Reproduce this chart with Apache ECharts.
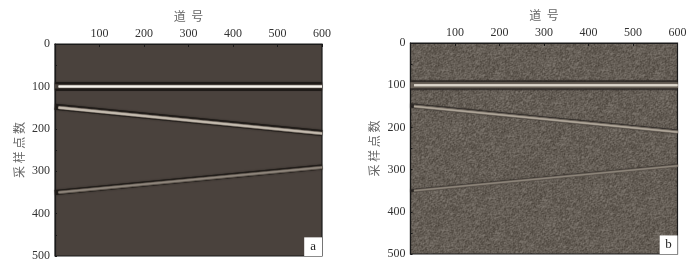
<!DOCTYPE html>
<html><head><meta charset="utf-8">
<style>html,body{margin:0;padding:0;background:#fff}#c{width:700px;height:267px}</style>
<script src="https://cdn.jsdelivr.net/npm/echarts@6/dist/echarts.min.js"></script>
</head><body><div id="c"></div>
<script>
const traceTicks = [0,100,200,300,400,500,600];
const sampleTicks = [0,100,200,300,400,500];
const xTitle = '道  号';
const yTitle = '采 样 点 数';
const panelLabels = ['a','b'];
// reflectors: [trace, sample]
const flatCore = [[8,100],[600,100]];
const flatHalo = [[0,100],[600,100]];
const dipDownCore = [[8,150],[600,211]];
const dipDownHalo = [[0,148],[600,210]];
const dipUpCore = [[8,350],[600,291]];
const dipUpHalo = [[0,350],[600,290]];

const serif = '"Liberation Serif", serif';
const cjk = '"Noto Sans CJK SC", sans-serif';

// non-data film-grain tile for panel b's background
function grainTile(){
  const n=160, cv=document.createElement('canvas'); cv.width=cv.height=n;
  const g=cv.getContext('2d'), im=g.createImageData(n,n);
  let s=12345;
  const next=()=>{s=(s*1103515245+12345)&0x7fffffff;return (s>>>8&255)/255;};
  const raw=[];for(let i=0;i<n*n;i++)raw.push(next()+next()-1);
  for(let y=0;y<n;y++)for(let x=0;x<n;x++){
    const v=(raw[y*n+x]*2+raw[y*n+(x+1)%n]+raw[((y+1)%n)*n+x])/4;
    const i=(y*n+x)*4,d=v*34;
    im.data[i]=100+d;im.data[i+1]=93+d;im.data[i+2]=85+d;im.data[i+3]=255;
  }
  g.putImageData(im,0,0);return cv;
}

function line(id,xi,data,color,width,z,opacity,blur){
  return {id,type:'line',xAxisIndex:xi,yAxisIndex:xi,data,symbol:'none',silent:true,z,
    lineStyle:{color,width,opacity:opacity==null?1:opacity,cap:'butt',shadowColor:color,shadowBlur:blur||0}};
}
function panel(i,p){
  const out=[];
  out.push(line('h1'+i,i,flatHalo,p.halo,p.hw1,3,p.ho,1.5));
  out.push(line('m1'+i,i,flatHalo,p.mid1,p.mw1,4,1,1));
  out.push(line('c1'+i,i,flatCore,p.c1,p.cw1,5,1,.6));
  out.push(line('h2'+i,i,dipDownHalo,p.halo,p.hw2,3,p.ho,1.5));
  out.push(line('m2'+i,i,dipDownCore,p.mid2,p.mw2,4,1,1));
  out.push(line('c2'+i,i,dipDownCore,p.c2,p.cw2,5,1,1));
  out.push(line('h3'+i,i,dipUpHalo,p.halo,p.hw3,3,p.ho,1.5));
  out.push(line('m3'+i,i,dipUpCore,p.mid3,p.mw3,4,1,1));
  const c3=line('c3'+i,i,dipUpCore,p.c3,p.cw3,5,1,1);
  c3.markArea={silent:true,z:8,itemStyle:{color:'#fff',opacity:1},
    label:{show:true,position:'inside',color:'#222',fontFamily:serif,fontSize:13},
    data:[[{name:panelLabels[i],coord:[560,456]},{coord:[600,500]}]]};
  out.push(c3);
  return out;
}
const grids=[{left:55,top:44,width:267,height:212},{left:410.5,top:43,width:267,height:211}];
const mk=(i)=>({
  x:{gridIndex:i,type:'value',position:'top',min:0,max:600,interval:100,
    name:xTitle,nameLocation:'middle',nameGap:22,nameTextStyle:{fontFamily:cjk,fontSize:12,color:'#666'},
    axisLine:{show:true,onZero:false,lineStyle:{color:'#1a1a1a',width:1.2}},
    axisTick:{show:true,inside:true,length:3,lineStyle:{color:'#1a1a1a'}},
    axisLabel:{fontFamily:serif,fontSize:12,color:'#333',margin:4,
      formatter:v=>traceTicks.includes(v)&&v!==0?String(v):''},
    splitLine:{show:false}},
  y:{gridIndex:i,type:'value',inverse:true,min:0,max:500,interval:100,
    name:yTitle,nameLocation:'middle',nameGap:30,nameRotate:90,nameTextStyle:{fontFamily:cjk,fontSize:12,color:'#666'},
    axisLine:{show:true,onZero:false,lineStyle:{color:'#1a1a1a',width:1.2}},
    axisTick:{show:true,inside:true,length:2,lineStyle:{color:'#1a1a1a'}},
    minorTick:{show:true,splitNumber:2,length:2,lineStyle:{color:'#1a1a1a'}},
    axisLabel:{fontFamily:serif,fontSize:12,color:'#333',margin:5,
      formatter:v=>sampleTicks.includes(v)?String(v):''},
    splitLine:{show:false}}
});
const a=mk(0),b=mk(1);
grids[0].show=true;grids[0].backgroundColor='#4a423d';grids[0].borderWidth=1.2;grids[0].borderColor='#1a1a1a';
grids[1].show=true;grids[1].backgroundColor={image:grainTile(),repeat:'repeat'};grids[1].borderWidth=1.2;grids[1].borderColor='#1a1a1a';
const pa={halo:'#1f1b18',ho:1,hw1:9,mid1:'#4a423d',mw1:4,cw1:2,c1:'#f7f3ec',hw2:6,mw2:3,cw2:1.6,c2:'#c4bbaf',mid2:'#7c736a',
  mid3:'#5f574f',hw3:5,mw3:3,cw3:1.4,c3:'#8f867c'};
const pb={halo:'#2b2723',ho:.7,hw1:10,mid1:'#6a6259',mw1:6,cw1:2,c1:'#dcd6cb',hw2:4.5,mw2:3,cw2:1.3,c2:'#afa699',mid2:'#6f675e',
  mid3:'#645c54',hw3:3,mw3:2.4,cw3:1,c3:'#8e867b'};
const chart=echarts.init(document.getElementById('c'),null,{renderer:'canvas'});
chart.setOption({animation:false,backgroundColor:'#fff',grid:grids,
  xAxis:[a.x,b.x],yAxis:[a.y,b.y],
  series:[...panel(0,pa),...panel(1,pb)]});
</script></body></html>
